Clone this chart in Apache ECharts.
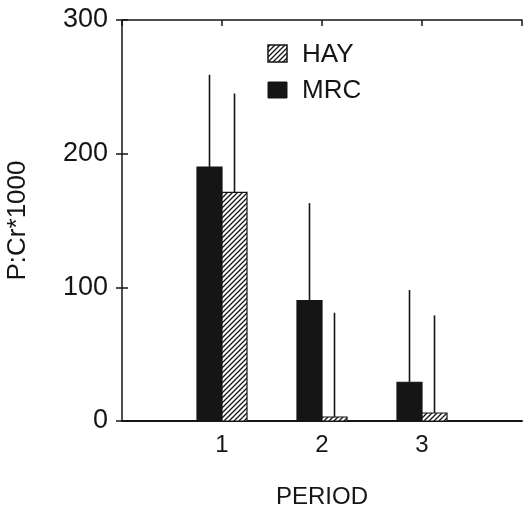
<!DOCTYPE html>
<html>
<head>
<meta charset="utf-8">
<script src="https://cdn.jsdelivr.net/npm/echarts@6/dist/echarts.min.js"></script>
<style>html,body{margin:0;padding:0;background:#fff;}#c{width:523px;height:508px;}</style>
</head>
<body>
<div id="c"></div>
<script>
const periods = [1, 2, 3];
const mrcValues = [190, 90, 29];
const hayValues = [171, 3, 6];
const mrcErrTop = [259, 163, 98];
const hayErrTop = [245, 81, 79];
const yTicks = [0, 100, 200, 300];

const INK = '#151515';
const FONT = 'Liberation Sans';

function makeHatch() {
  const s = 5;
  const cv = document.createElement('canvas');
  cv.width = s; cv.height = s;
  const g = cv.getContext('2d');
  g.fillStyle = '#fff'; g.fillRect(0, 0, s, s);
  g.strokeStyle = INK; g.lineWidth = 1.3;
  g.beginPath();
  g.moveTo(-1, s + 1); g.lineTo(s + 1, -1);
  g.moveTo(-1, 1); g.lineTo(1, -1);
  g.moveTo(s - 1, s + 1); g.lineTo(s + 1, s - 1);
  g.stroke();
  return cv;
}
const hatch = { image: makeHatch(), repeat: 'repeat' };

const chart = echarts.init(document.getElementById('c'), null, { renderer: 'canvas' });

function barRenderer(offsetStart, fill) {
  return function (params, api) {
    const x = api.value(0), v = api.value(1);
    const p0 = api.coord([x + offsetStart, v]);
    const p1 = api.coord([x + offsetStart + 0.25, 0]);
    return {
      type: 'rect',
      shape: { x: p0[0], y: p0[1], width: p1[0] - p0[0], height: p1[1] - p0[1] },
      style: { fill: fill, stroke: INK, lineWidth: 1.2 }
    };
  };
}
function errRenderer(offset) {
  return function (params, api) {
    const x = api.value(0), v = api.value(1), t = api.value(2);
    const a = api.coord([x + offset, v]);
    const b = api.coord([x + offset, t]);
    return {
      type: 'line',
      shape: { x1: a[0], y1: a[1], x2: b[0], y2: b[1] },
      style: { stroke: INK, lineWidth: 1.6 }
    };
  };
}

const mrcBars = periods.map((p, i) => [p, mrcValues[i]]);
const hayBars = periods.map((p, i) => [p, hayValues[i]]);
const mrcErr = periods.map((p, i) => [p, mrcValues[i], mrcErrTop[i]]);
const hayErr = periods.map((p, i) => [p, hayValues[i], hayErrTop[i]]);

const option = {
  animation: false,
  backgroundColor: '#fff',
  grid: { left: 122, right: 1, top: 20, bottom: 87, containLabel: false, outerBoundsMode: 'none' },
  xAxis: [
    {
      type: 'value', min: 0, max: 4, interval: 1, position: 'bottom',
      name: 'PERIOD', nameLocation: 'middle', nameGap: 64,
      nameTextStyle: { fontFamily: FONT, fontSize: 24, color: INK },
      axisLine: { show: true, lineStyle: { color: INK, width: 2 } },
      axisTick: { show: false },
      splitLine: { show: false },
      axisLabel: {
        margin: 12, fontFamily: FONT, fontSize: 24, color: INK,
        formatter: v => (periods.indexOf(v) >= 0 ? String(v) : '')
      }
    },
    {
      type: 'value', min: 0, max: 4, interval: 1, position: 'top',
      axisLine: { show: true, onZero: false, lineStyle: { color: INK, width: 1.5 } },
      axisTick: { show: true, inside: true, length: 6, lineStyle: { color: INK, width: 1.5 } },
      axisLabel: { show: false },
      splitLine: { show: false }
    }
  ],
  yAxis: [
    {
      type: 'value', min: 0, max: 300, interval: 100, position: 'left',
      name: 'P:Cr*1000', nameLocation: 'middle', nameGap: 91, nameRotate: 90,
      nameTextStyle: { fontFamily: FONT, fontSize: 26, color: INK },
      axisLine: { show: true, lineStyle: { color: INK, width: 1.5 } },
      axisTick: { show: true, inside: true, length: 6, lineStyle: { color: INK, width: 1.5 } },
      axisLabel: {
        margin: 14, fontFamily: FONT, fontSize: 27, color: INK,
        formatter: v => (yTicks.indexOf(v) >= 0 ? String(v) : '')
      },
      splitLine: { show: false }
    },
    {
      type: 'value', min: 0, max: 300, interval: 100, position: 'right',
      axisLine: { show: false },
      axisTick: { show: true, inside: true, length: 6, lineStyle: { color: INK, width: 1.5 } },
      axisLabel: { show: false },
      splitLine: { show: false }
    }
  ],
  series: [
    { name: 'MRC', type: 'custom', renderItem: barRenderer(-0.25, INK), data: mrcBars, encode: { x: 0, y: 1 }, z: 2 },
    { name: 'HAY', type: 'custom', renderItem: barRenderer(0, hatch), data: hayBars, encode: { x: 0, y: 1 }, z: 2 },
    { name: 'MRC err', type: 'custom', renderItem: errRenderer(-0.125), data: mrcErr, encode: { x: 0, y: [1, 2] }, z: 3 },
    { name: 'HAY err', type: 'custom', renderItem: errRenderer(0.125), data: hayErr, encode: { x: 0, y: [1, 2] }, z: 3 }
  ],
  graphic: [
    { type: 'rect', shape: { x: 268, y: 45, width: 19, height: 17 }, style: { fill: hatch, stroke: INK, lineWidth: 1.5 } },
    { type: 'text', x: 302, y: 55, style: { text: 'HAY', font: '26px "Liberation Sans"', fill: INK, verticalAlign: 'middle' } },
    { type: 'rect', shape: { x: 268, y: 82, width: 19, height: 16 }, style: { fill: INK, stroke: INK, lineWidth: 1 } },
    { type: 'text', x: 302, y: 91, style: { text: 'MRC', font: '26px "Liberation Sans"', fill: INK, verticalAlign: 'middle' } }
  ]
};
chart.setOption(option);
</script>
</body>
</html>
